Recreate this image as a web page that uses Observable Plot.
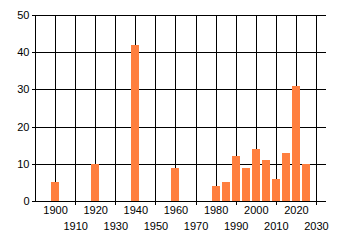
<!DOCTYPE html>
<html><head>
<meta charset="utf-8">
<script src="https://cdn.jsdelivr.net/npm/d3@7"></script>
<script src="https://cdn.jsdelivr.net/npm/@observablehq/plot@0.6"></script>
<style>html,body{margin:0;padding:0;background:#fff}</style>
</head><body><div id="chart"></div>
<script>
const years = [1900, 1920, 1940, 1960, 1980, 1985, 1990, 1995, 2000, 2005, 2010, 2015, 2020, 2025];
const counts = [5, 10, 42, 9, 4, 5, 12, 9, 14, 11, 6, 13, 31, 10];
const xLabelsRow1 = [1900, 1920, 1940, 1960, 1980, 2000, 2020];
const xLabelsRow2 = [1910, 1930, 1950, 1970, 1990, 2010, 2030];
const xGrid = [1890, 1900, 1910, 1920, 1930, 1940, 1950, 1960, 1970, 1980, 1990, 2000, 2010, 2020, 2030];
const yTicks = [0, 10, 20, 30, 40, 50];

const data = years.map((year, i) => ({year, count: counts[i]}));

const plot = Plot.plot({
  width: 340,
  height: 245,
  marginLeft: 35,
  marginTop: 15,
  marginRight: 14,
  marginBottom: 44,
  x: {domain: [1890, 2035]},
  y: {domain: [0, 50]},
  style: {fontFamily: "'Liberation Sans', Arial, sans-serif", fontSize: "11px", color: "#000", background: "#fff"},
  marks: [
    Plot.ruleX(xGrid, {stroke: "#000", strokeWidth: 1, shapeRendering: "crispEdges"}),
    Plot.ruleY(yTicks, {stroke: "#000", strokeWidth: 1, shapeRendering: "crispEdges"}),
    Plot.rectY(data, {x1: d => d.year - 2, x2: d => d.year + 2, y: "count", fill: "#ff7f3f", shapeRendering: "crispEdges"}),
    Plot.axisY(yTicks, {tickSize: 3, tickPadding: 3, label: null, shapeRendering: "crispEdges"}),
    Plot.axisX(xLabelsRow1, {tickSize: 0, tickPadding: 5, label: null, tickFormat: d => String(d)}),
    Plot.axisX(xLabelsRow2, {tickSize: 4, tickPadding: 17, label: null, tickFormat: d => String(d), shapeRendering: "crispEdges"})
  ]
});
document.getElementById("chart").appendChild(plot);
</script>
</body></html>
